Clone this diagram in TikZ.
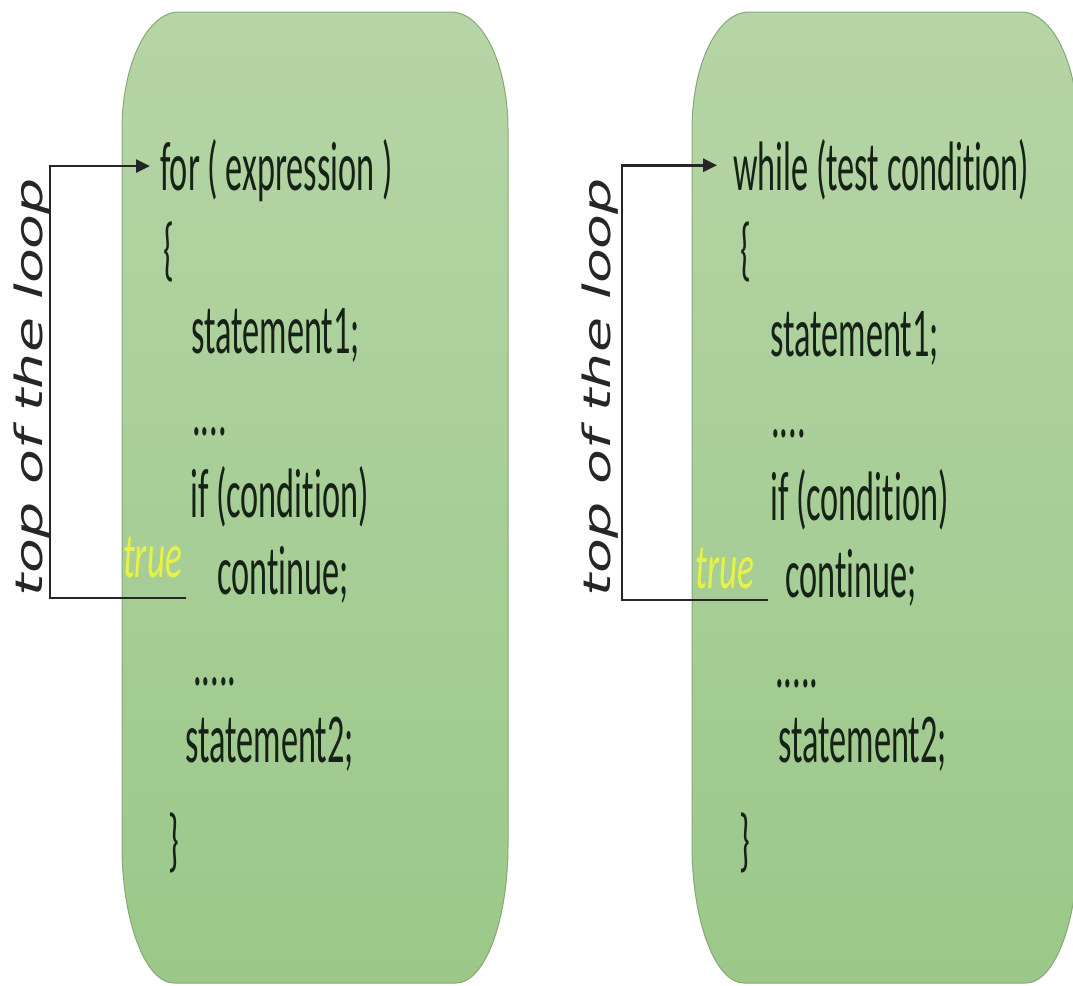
\documentclass[tikz,border=0pt]{standalone}
\usepackage{fontspec}
\usepackage{graphicx}
\usetikzlibrary{arrows.meta,calc}

% condensed Calibri-like faces for the code and the yellow labels
\newfontfamily\codefont[FakeStretch=0.49, Ligatures=NoCommon]{Carlito}
\newfontfamily\truefont[FakeStretch=0.55, Ligatures=NoCommon]{Carlito}
\newfontfamily\loopfont{DejaVu Sans}

\definecolor{boxtop}{RGB}{182,213,166}
\definecolor{boxbot}{RGB}{155,200,137}
\definecolor{boxedge}{RGB}{134,168,119}
\definecolor{codeink}{RGB}{22,34,22}
\definecolor{trueink}{RGB}{232,242,70}

\tikzset{
  code/.style={anchor=base west, inner sep=0pt, text=codeink,
    font=\codefont\fontsize{70}{76}\selectfont},
  truelabel/.style={anchor=base west, inner sep=0pt, text=trueink,
    font=\truefont\itshape\fontsize{64}{70}\selectfont},
  looplabel/.style={rotate=90, inner sep=0pt, text=black!85},
  loopline/.style={draw=black!85, line width=2.6pt},
  looparrow/.style={loopline, -{Triangle[length=14pt,width=13pt]}},
}

% tall green panel with elliptical corners, from x=#1 to x=#2
\newcommand{\loopbox}[2]{%
  \shade[top color=boxtop, bottom color=boxbot, draw=boxedge, line width=1pt]
    (#1,130) .. controls (#1,65) and ({#1+25},12) .. ({#1+57},12)
    -- ({#2-57},12) .. controls ({#2-25},12) and (#2,65) .. (#2,130)
    -- (#2,845) .. controls (#2,921.2) and ({#2-23.3},983) .. ({#2-52},983)
    -- ({#1+52},983) .. controls ({#1+23.3},983) and (#1,921.2) .. (#1,845)
    -- cycle;}

\newcommand{\sidetext}{\scalebox{1}[0.66]{\loopfont\itshape\fontsize{57}{60}\selectfont top of the loop}}

\begin{document}
\begin{tikzpicture}[x=1pt, y=-1pt]
  \useasboundingbox (0,0) rectangle (1073,985);
  \begin{scope}
    \clip (0,0) rectangle (1073,985);
    \loopbox{122}{508}
    \loopbox{692}{1078}
  \end{scope}

  % ---- for loop ----
  \node[code] (forL)  at (160,190) {for ( expression )};
  \node[code] (obL)   at (163,272) {\{};
  \node[code] (s1L)   at (191,353) {statement1;};
  \node[code] (d1L)   at (192,435) {....};
  \node[code] (ifL)   at (190,517) {if (condition)};
  \node[code] (contL) at (217,594) {continue;};
  \node[code] (d2L)   at (193,685) {.....};
  \node[code] (s2L)   at (185,762) {statement2;};
  \node[code] (cbL)   at (168,863) {\}};
  \node[truelabel] (trueL) at (123,577) {true};
  \node[looplabel] (topL) at (32,387) {\sidetext};

  \coordinate (retL)  at (186,598);
  \coordinate (railL) at (50,598);
  \draw[looparrow, shorten >=10pt] (retL) -- (railL) |- ([yshift=4pt]forL.west);

  % ---- while loop ----
  \node[code] (whileR) at (733,190) {while (test condition)};
  \node[code] (obR)   at (740,272) {\{};
  \node[code] (s1R)   at (770,356) {statement1;};
  \node[code] (d1R)   at (771,437) {....};
  \node[code] (ifR)   at (770,520) {if (condition)};
  \node[code] (contR) at (785,597) {continue;};
  \node[code] (d2R)   at (775,687) {.....};
  \node[code] (s2R)   at (778,762) {statement2;};
  \node[code] (cbR)   at (739,863) {\}};
  \node[truelabel] (trueR) at (695,588) {true};
  \node[looplabel] (topR) at (600,387) {\sidetext};

  \coordinate (retR)  at (768,600);
  \coordinate (railR) at (622,600);
  \draw[looparrow, shorten >=16pt] (retR) -- (railR) |- ([yshift=4pt]whileR.west);
\end{tikzpicture}
\end{document}
